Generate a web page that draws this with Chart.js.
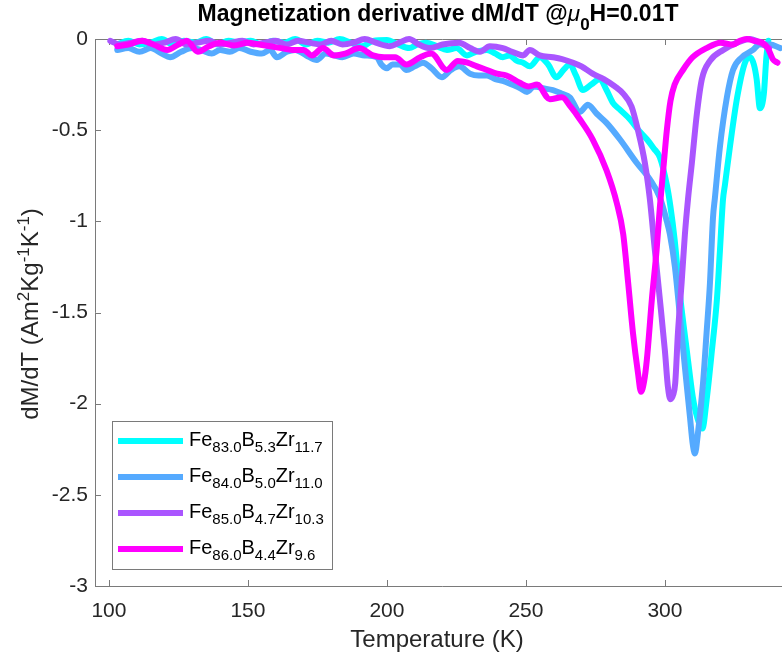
<!DOCTYPE html>
<html>
<head>
<meta charset="utf-8">
<script src="https://cdn.jsdelivr.net/npm/chart.js"></script>
<style>
  html, body { margin: 0; padding: 0; background: #fff; overflow: hidden; }
  /* the axes box runs past the right edge of the picture, so the canvas is a bit wider than the window */
  #wrap { width: 800px; height: 661px; }
</style>
</head>
<body>
<div id="wrap"><canvas id="myChart"></canvas></div>
<script>
const FONT = '"Liberation Sans", Arial, Helvetica, sans-serif';

// axis ticks
const xTicks = [100, 150, 200, 250, 300];
const yTicks = [0, -0.5, -1, -1.5, -2, -2.5, -3];

// legend labels (_{..} = subscript)
const seriesLabels = [
  'Fe_{83.0}B_{5.3}Zr_{11.7}',
  'Fe_{84.0}B_{5.0}Zr_{11.0}',
  'Fe_{85.0}B_{4.7}Zr_{10.3}',
  'Fe_{86.0}B_{4.4}Zr_{9.6}'
];
const seriesColors = ['#00FFFF', '#55AAFF', '#AA55FF', '#FF00FF'];

// Fe83.0 B5.3 Zr11.7
const tempFe83 = [103,107,111,115,119,123,127,131,135,139,143,147,151,155,159,163,167,171,175,179,183,187,191,195,200,204,208,211,214,218,221.6,225,228.8,232,236,239,241.7,244,246.8,249,251.4,255,258,261,263.5,265.8,268,270.5,273.5,276.6,279,281.3,284,287.4,290.5,293.5,296,298.2,300.7,302,303.5,305.4,307.9,310,311.7,313.5,315,316.9,318.7,319.8,320.9,321.6,323.4,326,328.8,330.6,332,333,334.2,335.6,336.5,337.2];
const dmdtFe83 = [-0.03,-0.01,-0.03,-0.02,0,-0.03,-0.01,-0.02,0,-0.03,-0.01,-0.02,-0.01,-0.03,-0.01,-0.02,0,-0.03,-0.01,-0.02,0,-0.02,-0.04,-0.01,-0.005,-0.03,-0.05,-0.03,-0.02,-0.04,-0.06,-0.05,-0.09,-0.07,-0.06,-0.08,-0.1,-0.09,-0.12,-0.13,-0.15,-0.1,-0.14,-0.21,-0.17,-0.14,-0.2,-0.28,-0.25,-0.22,-0.28,-0.35,-0.39,-0.44,-0.5,-0.55,-0.6,-0.65,-0.8,-0.92,-1.1,-1.4,-1.71,-1.96,-2.08,-2.136,-1.98,-1.71,-1.43,-1.16,-0.88,-0.8,-0.59,-0.32,-0.13,-0.1,-0.14,-0.22,-0.38,-0.3,-0.1,-0.01];

// Fe84.0 B5.0 Zr11.0
const tempFe84 = [103,107,111,115,119,122,126,130,133,137,140,143.5,147,151,155,158,160.4,164,167,171,174.8,178,181,184,188,192,196.4,198,200,202,204.7,207,210,213,216,219.8,223,226,229.9,233,236,239,241.7,245,248,250.4,253,256,259.7,263,265.8,269.4,272.3,275.5,279,283.8,289.9,294.6,298.2,300.7,301.8,303.6,305.4,307.2,309,310,310.8,311.9,313.7,315,316.2,317.3,318,319.8,322.3,324.5,327.7,331.7,334,337.8,341.5];
const dmdtFe84 = [-0.06,-0.05,-0.07,-0.05,-0.08,-0.1,-0.07,-0.05,-0.06,-0.08,-0.06,-0.07,-0.05,-0.07,-0.08,-0.06,-0.1,-0.07,-0.06,-0.09,-0.115,-0.08,-0.09,-0.1,-0.08,-0.09,-0.1,-0.14,-0.16,-0.14,-0.14,-0.17,-0.15,-0.13,-0.16,-0.21,-0.17,-0.15,-0.19,-0.2,-0.2,-0.22,-0.23,-0.25,-0.27,-0.29,-0.26,-0.27,-0.28,-0.3,-0.32,-0.4,-0.36,-0.41,-0.46,-0.55,-0.68,-0.77,-0.87,-1.0,-1.07,-1.25,-1.52,-1.8,-2.07,-2.22,-2.273,-2.16,-1.89,-1.61,-1.34,-0.98,-0.87,-0.59,-0.32,-0.17,-0.1,-0.06,-0.03,-0.03,-0.05];

// Fe85.0 B4.7 Zr10.3
const tempFe85 = [100.5,104,108,112,116,120,124,128,132,136,140,144,148,152,156,160,164,168,172,176,180,184,188,192,196,201,204.5,208,211.5,215.5,220,226,230,233.5,237,241.7,245,249,251.4,255,259.7,263,267,270,274,278,282,285,288,290.3,292.8,294.6,296.4,298.2,300,301.1,302,303,303.7,304.7,306,307.2,308.3,309.7,311.5,313.3,316.2,321,326,330.6,334,337.5];
const dmdtFe85 = [-0.01,-0.03,-0.02,-0.01,-0.03,-0.02,0,-0.03,-0.02,-0.01,-0.03,-0.02,-0.01,-0.03,-0.02,-0.01,-0.03,-0.01,-0.02,-0.03,-0.01,-0.03,-0.02,0,-0.02,-0.04,-0.02,0,-0.03,-0.05,-0.03,-0.02,-0.05,-0.07,-0.04,-0.05,-0.07,-0.09,-0.06,-0.09,-0.1,-0.11,-0.13,-0.15,-0.19,-0.22,-0.26,-0.3,-0.37,-0.5,-0.68,-0.88,-1.16,-1.43,-1.71,-1.91,-1.976,-1.95,-1.89,-1.61,-1.34,-1.07,-0.88,-0.68,-0.41,-0.22,-0.12,-0.06,-0.02,0,-0.02,-0.05];

// Fe86.0 B4.4 Zr9.6
const tempFe86 = [103,107,112,116,121,125,128,132,136,140,145,150,154,158,162,166,170,173,177,181,185,190,195,199,203,207,212,216,221.5,225.5,229,232.4,236,239.6,243,247.8,251,254,258.6,263,266,269.4,274,279,282.7,285,286.8,288.5,290.3,291.4,292.5,293.5,295.3,297,298.2,299.5,300.7,302,303.5,306.5,310,315,320,324.5,327,329.5,332,335,337,338.8,340.5];
const dmdtFe86 = [-0.04,-0.03,-0.01,-0.03,-0.06,-0.03,-0.01,-0.07,-0.04,-0.02,-0.035,-0.02,-0.03,-0.04,-0.05,-0.06,-0.06,-0.09,-0.05,-0.09,-0.08,-0.05,-0.09,-0.1,-0.1,-0.14,-0.1,-0.08,-0.17,-0.12,-0.13,-0.15,-0.17,-0.19,-0.2,-0.24,-0.26,-0.25,-0.33,-0.32,-0.37,-0.44,-0.55,-0.72,-0.9,-1.07,-1.34,-1.61,-1.83,-1.935,-1.88,-1.76,-1.43,-1.16,-0.92,-0.7,-0.5,-0.34,-0.25,-0.17,-0.1,-0.05,-0.02,-0.03,-0.01,0,-0.01,-0.02,-0.05,-0.11,-0.13];

const temps = [tempFe83, tempFe84, tempFe85, tempFe86];
const values = [dmdtFe83, dmdtFe84, dmdtFe85, dmdtFe86];

// split "Fe_{83.0}B" style strings into pieces
function richParts(str) {
  const out = [];
  const re = /([_^~])\{([^}]*)\}|([^_^~]+)/g;
  let m;
  while ((m = re.exec(str))) {
    if (m[3]) out.push({ t: m[3], k: 'n' });
    else out.push({ t: m[2], k: m[1] === '_' ? 'sub' : m[1] === '^' ? 'sup' : 'it' });
  }
  return out;
}

function drawRich(ctx, str, x, y, o) {
  const parts = richParts(str);
  const size = o.size, small = o.small || Math.round(size * 0.72);
  const fontOf = p => {
    if (p.k === 'it') return `italic normal ${size}px ${FONT}`;
    return `${o.weight || 'normal'} ${p.k === 'n' ? size : small}px ${FONT}`;
  };
  let w = 0;
  parts.forEach(p => { ctx.font = fontOf(p); p.w = ctx.measureText(p.t).width; w += p.w; });
  let cx = o.align === 'center' ? x - w / 2 : x;
  ctx.textAlign = 'left';
  ctx.textBaseline = 'alphabetic';
  ctx.fillStyle = o.color || '#000';
  parts.forEach(p => {
    ctx.font = fontOf(p);
    const dy = p.k === 'sub' ? (o.subDy || size * 0.32) : p.k === 'sup' ? -(o.supDy || size * 0.38) : 0;
    ctx.fillText(p.t, cx, y + dy);
    cx += p.w;
  });
}

const AXIS = '#7a7a7a';

const decorations = {
  id: 'decorations',
  beforeDatasetsDraw(chart) {
    const { ctx, chartArea: a, scales } = chart;
    ctx.save();
    ctx.strokeStyle = AXIS;
    ctx.lineWidth = 1;
    ctx.beginPath();
    ctx.moveTo(a.left + 0.5, a.top + 0.5);
    ctx.lineTo(a.right, a.top + 0.5);
    ctx.moveTo(a.left + 0.5, a.top);
    ctx.lineTo(a.left + 0.5, a.bottom + 0.5);
    ctx.lineTo(a.right, a.bottom + 0.5);
    // inward tick marks
    xTicks.forEach(v => {
      const px = Math.round(scales.x.getPixelForValue(v)) + 0.5;
      ctx.moveTo(px, a.bottom); ctx.lineTo(px, a.bottom - 6);
      ctx.moveTo(px, a.top); ctx.lineTo(px, a.top + 6);
    });
    yTicks.forEach(v => {
      const py = Math.round(scales.y.getPixelForValue(v)) + 0.5;
      ctx.moveTo(a.left, py); ctx.lineTo(a.left + 6, py);
    });
    ctx.stroke();
    ctx.restore();
  },
  afterDraw(chart) {
    const { ctx } = chart;
    ctx.save();
    // title
    drawRich(ctx, 'Magnetization derivative dM/dT @~{\u03bc}_{0}H=0.01T', 438, 21,
      { size: 23, small: 17, weight: 'bold', align: 'center', subDy: 9 });
    // axis titles
    drawRich(ctx, 'Temperature (K)', 437, 647, { size: 24, align: 'center', color: '#262626' });
    ctx.translate(38, 314);
    ctx.rotate(-Math.PI / 2);
    drawRich(ctx, 'dM/dT (Am^{2}Kg^{-1}K^{-1})', 0, 0, { size: 24, small: 17, supDy: 9, align: 'center', color: '#262626' });
    ctx.restore();

    // legend box
    ctx.save();
    ctx.fillStyle = '#fff';
    ctx.fillRect(112, 421, 220, 148);
    ctx.strokeStyle = AXIS;
    ctx.lineWidth = 1;
    ctx.strokeRect(112.5, 421.5, 220, 148);
    seriesLabels.forEach((lab, i) => {
      const y = 441 + i * 36;
      ctx.strokeStyle = seriesColors[i];
      ctx.lineWidth = 6;
      ctx.beginPath();
      ctx.moveTo(118, y);
      ctx.lineTo(183, y);
      ctx.stroke();
      drawRich(ctx, lab, 189, y + 5, { size: 20, small: 15, subDy: 6, color: '#000' });
    });
    ctx.restore();
  }
};

const datasets = seriesLabels.map((lab, i) => ({
  label: lab,
  data: temps[i].map((t, j) => ({ x: t, y: values[i][j] })),
  borderColor: seriesColors[i],
  backgroundColor: seriesColors[i],
  borderWidth: 6,
  pointRadius: 0,
  cubicInterpolationMode: 'monotone',
  borderJoinStyle: 'round',
  borderCapStyle: 'round',
  clip: false,
  order: 4 - i
}));

new Chart(document.getElementById('myChart'), {
  type: 'line',
  data: { datasets },
  options: {
    responsive: true,
    maintainAspectRatio: false,
    animation: false,
    layout: { padding: { top: 39, right: 10, left: 0, bottom: 0 } },
    plugins: { legend: { display: false }, title: { display: false }, tooltip: { enabled: false } },
    scales: {
      x: {
        type: 'linear',
        min: 95,
        max: 345,
        afterBuildTicks: s => { s.ticks = xTicks.map(v => ({ value: v })); },
        afterFit: s => { s.height = 75; },
        grid: { display: false, drawTicks: false },
        border: { display: false },
        ticks: { padding: 13, color: '#262626', font: { family: FONT, size: 21 }, maxRotation: 0 }
      },
      y: {
        min: -3,
        max: 0,
        afterBuildTicks: s => { s.ticks = yTicks.map(v => ({ value: v })); },
        afterFit: s => { s.width = 95; },
        grid: { display: false, drawTicks: false },
        border: { display: false },
        ticks: { padding: 7, color: '#262626', font: { family: FONT, size: 21 },
          callback: v => String(v) }
      }
    }
  },
  plugins: [decorations]
});
</script>
</body>
</html>
